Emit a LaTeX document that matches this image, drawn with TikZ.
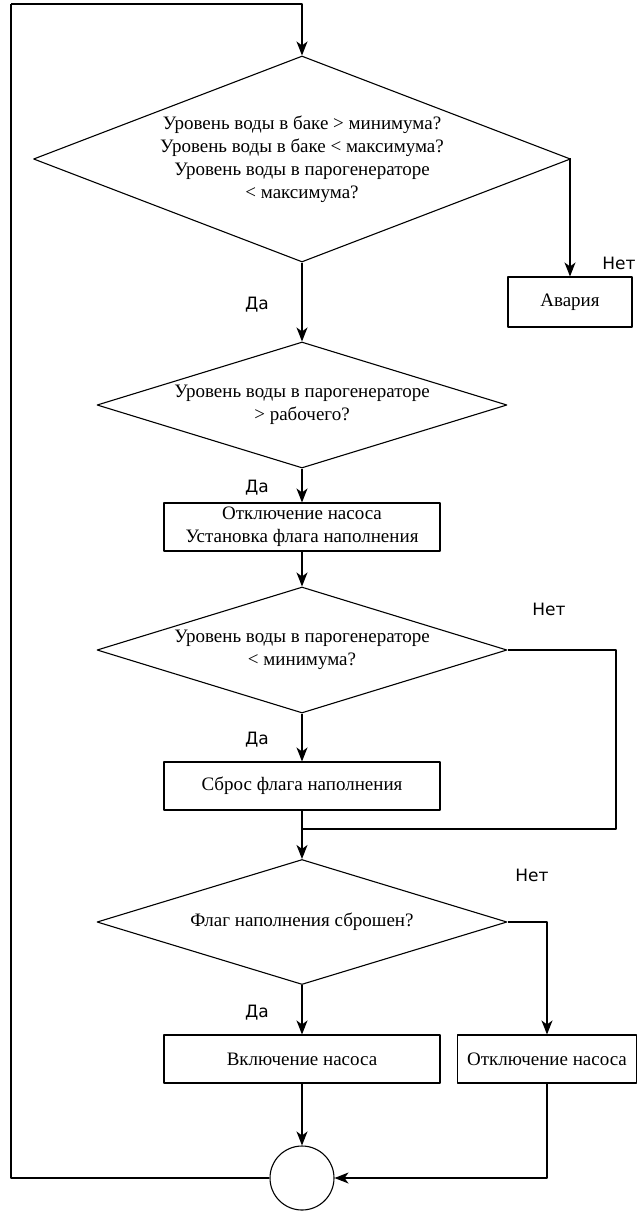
\documentclass[tikz,border=0pt]{standalone}
\usepackage{fontspec}
\setmainfont{Liberation Serif}
\newfontfamily\otvfont{DejaVu Sans}
\usetikzlibrary{shapes.geometric,arrows.meta}
\tikzset{
  dia/.style={draw,diamond,inner sep=0pt,align=center,font=\fontsize{19}{23}\selectfont},
  blok/.style={draw,rectangle,minimum height=48pt,inner sep=0pt,align=center,font=\fontsize{19}{23}\selectfont},
  otv/.style={font=\otvfont\fontsize{17}{20}\selectfont}
}
\begin{document}
\begin{tikzpicture}[x=1pt,y=-1pt,>={Stealth[length=14pt,width=11pt,inset=4pt]},line width=1.1pt,line join=round]
	\useasboundingbox (0,0) rectangle (641,1212);
	\node[dia,aspect=2.6,minimum width=537pt,minimum height=206pt] (d1) at (302,159) {Уровень воды в баке > минимума?\\Уровень воды в баке < максимума?\\Уровень воды в парогенераторе\\< максимума?};
	\node[blok,minimum width=124pt,minimum height=50pt] (avar) at (570,302) {Авария};
	\node[dia,aspect=3.25,minimum width=410pt,minimum height=126pt] (d2) at (302,405) {Уровень воды в парогенераторе\\> рабочего?};
	\node[blok,minimum width=276pt] (b1) at (302,527) {Отключение насоса\\Установка флага наполнения};
	\node[dia,aspect=3.25,minimum width=410pt,minimum height=126pt] (d3) at (302,650) {Уровень воды в парогенераторе\\< минимума?};
	\node[blok,minimum width=276pt] (b2) at (302,786) {Сброс флага наполнения};
	\node[dia,aspect=3.25,minimum width=410pt,minimum height=125pt] (d4) at (302,922) {Флаг наполнения сброшен?};
	\node[blok,minimum width=276pt] (b3) at (302,1059) {Включение насоса};
	\node[blok,minimum width=179pt] (b4) at (547,1059) {Отключение насоса};
	\node[draw,circle,minimum size=64pt,inner sep=0pt] (kr) at (302,1178) {};
	% metki
	\node[otv] (da1) at (257,305) {Да};
	\node[otv] (net1) at (619,263) {Нет};
	\node[otv] (da2) at (257,488) {Да};
	\node[otv] (net2) at (549,609) {Нет};
	\node[otv] (da3) at (257,740) {Да};
	\node[otv] (net3) at (532,875) {Нет};
	\node[otv] (da4) at (257,1013) {Да};
	\coordinate (sl) at (302,829);
	\coordinate (slr) at (616,829);
	\coordinate (ug) at (11,4);
	% strelki
	\draw[->] (ug) -| (d1.north);
	\draw[->] (d1.east) -| (avar.north);
	\draw[->] (d1.south) -- (d2.north);
	\draw[->] (d2.south) -- (b1.north);
	\draw[->] (b1.south) -- (d3.north);
	\draw[->] (d3.south) -- (b2.north);
	\draw (d3.east) -| (slr) -- (sl);
	\draw[->] (b2.south) -- (d4.north);
	\draw[->] (d4.south) -- (b3.north);
	\draw[->] (d4.east) -| (b4.north);
	\draw[->] (b3.south) -- (kr.north);
	\draw[->] (b4.south) |- (kr.east);
	\draw (kr.west) -| (ug);
\end{tikzpicture}
\end{document}
